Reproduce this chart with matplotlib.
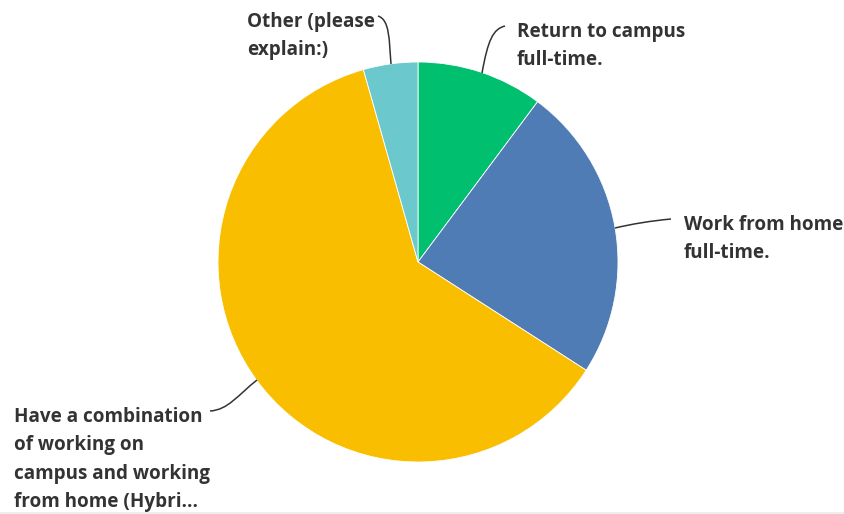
import matplotlib
matplotlib.use("Agg")
import matplotlib.pyplot as plt
from matplotlib.path import Path
from matplotlib.patches import PathPatch

# Survey answers and their share of responses (%)
categories = [
    "Return to campus\nfull-time.",
    "Work from home\nfull-time.",
    "Have a combination\nof working on\ncampus and working\nfrom home (Hybri...",
    "Other (please\nexplain:)",
]
shares = [10.2, 23.9, 61.5, 4.4]
colors = ["#00BF6F", "#507CB6", "#F9BE00", "#6BC8CD"]

W, H = 845, 514
fig = plt.figure(figsize=(W / 100, H / 100), dpi=100)
ax = fig.add_axes([0, 0, 1, 1])

cx, cy, r = 418, H - 262, 200
ax.pie(shares, colors=colors, startangle=90, counterclock=False,
       center=(cx, cy), radius=r, frame=True,
       wedgeprops=dict(linewidth=0.6, edgecolor="white"))
ax.set_xlim(0, W)
ax.set_ylim(0, H)
ax.set_aspect("equal")
ax.axis("off")

def leader(pts):
    # cubic curve from label to slice edge, given in top-down pixel coords
    verts = [(x, H - y) for x, y in pts]
    codes = [Path.MOVETO] + [Path.CURVE4] * (len(verts) - 1)
    ax.add_patch(PathPatch(Path(verts, codes), fill=False,
                           edgecolor="#333333", linewidth=1.1, zorder=5))

leader([(505, 26), (493, 29), (488, 40), (482, 73)])
leader([(671, 219), (650, 221), (632, 224), (615, 228)])
leader([(210, 411), (228, 410), (238, 395), (257, 380)])
leader([(378, 16), (390, 20), (389, 40), (391, 64)])

label_style = dict(fontsize=13.6, fontweight="bold", color="#333333",
                   family=["Open Sans", "DejaVu Sans"], ha="left",
                   va="baseline")
line_gap = 28.3

def label(x, first_baseline, text):
    # each line placed on its own baseline, top-down pixel coords
    for i, line in enumerate(text.split("\n")):
        ax.text(x, H - (first_baseline + i * line_gap), line, **label_style)

label(517, 37, categories[0])
label(684, 230, categories[1])
label(14, 422, categories[2])
label(247, 27, categories[3])

# faint rule along the bottom edge
ax.plot([0, W], [1, 1], color="#ebebeb", linewidth=1.2)

fig.savefig("out.png", dpi=100)
